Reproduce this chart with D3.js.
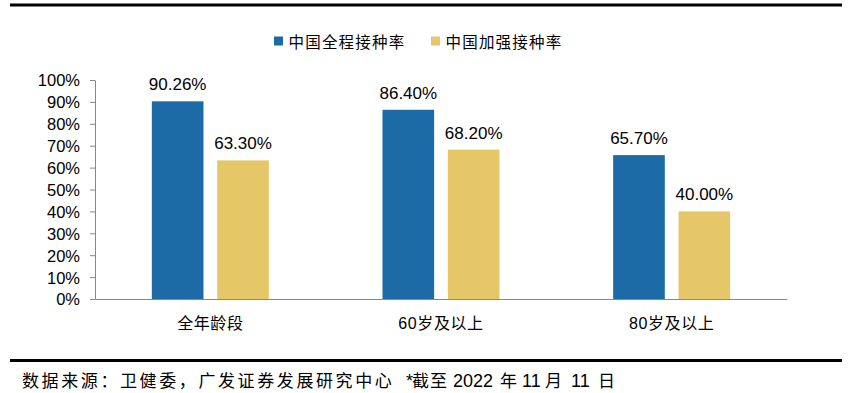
<!DOCTYPE html>
<html><head><meta charset="utf-8">
<script src="https://cdn.jsdelivr.net/npm/d3@7"></script>
<style>body{margin:0;background:#fff}svg{display:block}</style>
</head><body>
<script>
const categories = ["全年龄段", "60岁及以上", "80岁及以上"];
const seriesNames = ["中国全程接种率", "中国加强接种率"];
const fullRate = [90.26, 86.40, 65.70];
const boosterRate = [63.30, 68.20, 40.00];
const yTicks = [0,10,20,30,40,50,60,70,80,90,100];
const colors = ["#1C6AA6", "#E5C767"];
const sourceParts = [
  {t:"数据来源：卫健委，广发证券发展研究中心", x:22, cjk:true, ls:2.6},
  {t:"*", x:406, cjk:false, ls:0},
  {t:"截至", x:412, cjk:true, ls:1},
  {t:"2022", x:453, cjk:false, ls:0},
  {t:"年", x:500, cjk:true, ls:0},
  {t:"11", x:522, cjk:false, ls:0},
  {t:"月", x:545, cjk:true, ls:0},
  {t:"11", x:571, cjk:false, ls:0},
  {t:"日", x:598, cjk:true, ls:0}
];

(function(){
const W = 853, H = 393;
const svg = d3.select("body").append("svg").attr("width", W).attr("height", H);
const latin = "'Liberation Sans', Arial, 'Noto Sans CJK SC', sans-serif";
const cjk = "'Noto Sans CJK SC', sans-serif";

svg.append("line").attr("x1",10).attr("x2",842).attr("y1",5).attr("y2",5).attr("stroke","#000").attr("stroke-width",3);
svg.append("line").attr("x1",10).attr("x2",842).attr("y1",360.5).attr("y2",360.5).attr("stroke","#000").attr("stroke-width",3);

const pL = 95, pR = 787, pT = 80, pB = 299;
const x0 = d3.scaleBand().domain(categories).range([pL, pR]).paddingInner(0).paddingOuter(0);
const x1 = d3.scaleBand().domain(seriesNames).range([x0.bandwidth()/2 - 58.5, x0.bandwidth()/2 + 58.5]).paddingInner(0.21);
const y = d3.scaleLinear().domain([0,100]).range([pB, pT]);

const data = categories.map((c,i)=>({cat:c, vals:[fullRate[i], boosterRate[i]]}));

const g = svg.append("g");
const groups = g.selectAll("g.grp").data(data).enter().append("g")
  .attr("transform", d=>`translate(${x0(d.cat)},0)`);
groups.selectAll("rect").data(d=>d.vals.map((v,j)=>({v, s:seriesNames[j], j})))
  .enter().append("rect")
  .attr("x", d=>x1(d.s)).attr("width", x1.bandwidth())
  .attr("y", d=>y(d.v)).attr("height", d=>pB - y(d.v))
  .attr("fill", d=>colors[d.j]);
groups.selectAll("text.val").data(d=>d.vals.map((v,j)=>({v, s:seriesNames[j]})))
  .enter().append("text")
  .attr("x", d=>x1(d.s)+x1.bandwidth()/2).attr("y", d=>y(d.v)-11)
  .attr("text-anchor","middle").attr("font-family",latin).attr("font-size",17).attr("fill","#000")
  .text(d=>d.v.toFixed(2)+"%");

const yAxis = d3.axisLeft(y).tickValues(yTicks).tickFormat(d=>d+"%").tickSize(5).tickSizeOuter(0);
const ya = svg.append("g").attr("transform",`translate(${pL},0)`).call(yAxis);
ya.select(".domain").attr("stroke","#888");
ya.selectAll(".tick line").attr("stroke","#888");
ya.selectAll(".tick text").attr("font-family",latin).attr("font-size",16.5).attr("fill","#000").attr("x",-15).attr("dy","0.36em");

const xAxis = d3.axisBottom(x0).tickSize(0).tickSizeOuter(0);
const xa = svg.append("g").attr("transform",`translate(0,${pB})`).call(xAxis);
xa.select(".domain").attr("stroke","#888");
xa.selectAll(".tick text").attr("font-family",latin).attr("font-size",16).attr("letter-spacing","0.6px")
  .attr("fill","#000").attr("dy",0).attr("y",29.5);

const legend = svg.append("g");
const legX = [274, 431];
seriesNames.forEach((s,i)=>{
  legend.append("rect").attr("x",legX[i]).attr("y",36.5).attr("width",9).attr("height",9).attr("fill",colors[i]);
  legend.append("text").attr("x",legX[i]+14.5).attr("y",48).attr("font-family",cjk).attr("font-size",15.5)
    .attr("letter-spacing","1.2px").attr("fill","#000").text(s);
});

const footer = svg.append("text").attr("y",386.5).attr("fill","#000");
sourceParts.forEach(p=>{
  footer.append("tspan").attr("x",p.x)
    .attr("font-family", p.cjk ? cjk : latin)
    .attr("font-size", p.cjk ? 17 : 18)
    .attr("letter-spacing", p.ls + "px")
    .text(p.t);
});
})();
</script>
</body></html>
